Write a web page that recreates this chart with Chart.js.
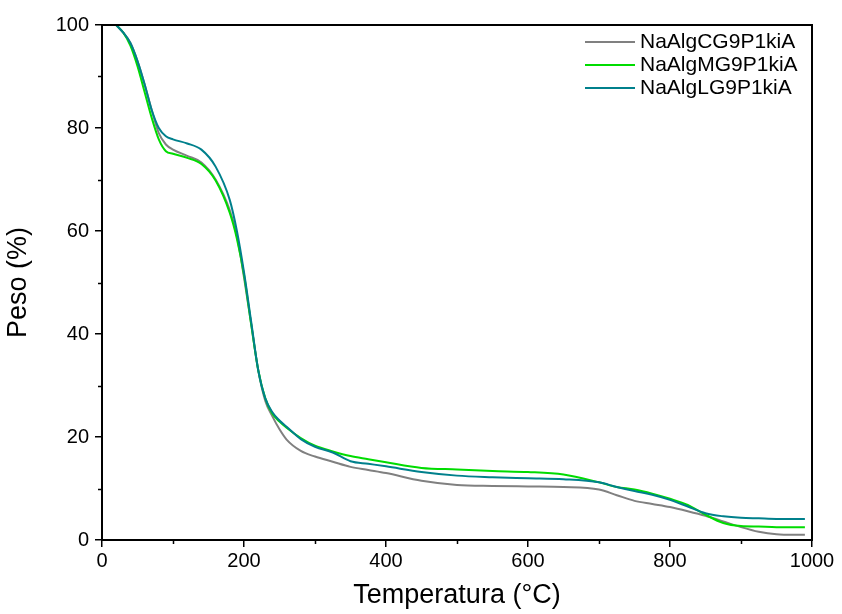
<!DOCTYPE html>
<html>
<head>
<meta charset="utf-8">
<script src="https://cdn.jsdelivr.net/npm/chart.js@4/dist/chart.umd.min.js"></script>
<style>
  html, body { margin: 0; padding: 0; background: #fff; }
  #wrap { width: 842px; height: 614px; }
</style>
</head>
<body>
<div id="wrap"><canvas id="tgaChart" width="842" height="614"></canvas></div>
<script>
// temperatura (°C)
const temperaturas = [20, 30, 40, 50, 60, 70, 80, 90, 100, 120, 140, 160, 180, 190, 200, 210, 220, 230, 240, 250, 260, 280, 300, 325, 350, 375, 400, 450, 500, 550, 600, 650, 700, 725, 750, 775, 800, 825, 850, 875, 900, 925, 950, 975, 990];

// peso (%)
const pesoCG = [100, 98.5, 96.5, 93, 88.5, 83.5, 79, 76.8, 75.8, 74.6, 73.3, 70, 64, 59, 51, 42, 33, 27, 24, 21.5, 19.5, 17.3, 16.2, 15.2, 14.2, 13.6, 13, 11.5, 10.7, 10.5, 10.4, 10.3, 9.8, 8.7, 7.6, 7, 6.4, 5.6, 4.7, 3.6, 2.5, 1.6, 1.1, 1, 1];
const pesoMG = [100, 98.5, 96, 92, 87, 82, 77.8, 75.5, 75, 74.2, 73, 69.8, 63.5, 58.5, 51.5, 42, 33, 27.5, 24.5, 23, 21.8, 19.8, 18.3, 17.2, 16.3, 15.7, 15.1, 14, 13.7, 13.4, 13.2, 12.7, 11.2, 10.3, 9.8, 9, 8, 6.8, 4.9, 3.3, 2.7, 2.6, 2.5, 2.5, 2.5];
const pesoLG = [100, 98.5, 96.5, 93, 88.5, 83.5, 80, 78.4, 77.8, 77, 75.8, 72.5, 66, 60, 52, 42.5, 33, 27.5, 24.8, 23.2, 22, 19.6, 18.1, 17, 15.3, 14.8, 14.3, 13.2, 12.5, 12.2, 12, 11.8, 11.2, 10.3, 9.5, 8.8, 7.8, 6.5, 5.2, 4.6, 4.3, 4.2, 4.1, 4.1, 4.1];

const etichete = ['NaAlgCG9P1kiA', 'NaAlgMG9P1kiA', 'NaAlgLG9P1kiA'];
const culori = ['#808080', '#00dc00', '#00808c'];

const xTicks = [0, 200, 400, 600, 800, 1000];
const yTicks = [0, 20, 40, 60, 80, 100];

function puncte(valori) {
    return temperaturas.map((t, i) => ({ x: t, y: valori[i] }));
}

// ramă, ticks minore si legenda
const extraPlugin = {
    id: 'extra',
    afterDraw(chart) {
        const ctx = chart.ctx;
        const a = chart.chartArea;
        const xs = chart.scales.x;
        const ys = chart.scales.y;
        ctx.save();
        ctx.strokeStyle = '#000';
        ctx.lineWidth = 2;
        ctx.strokeRect(a.left, a.top, a.right - a.left, a.bottom - a.top);

        ctx.lineWidth = 1.5;
        ctx.beginPath();
        for (let v = 100; v < 1000; v += 200) {
            const px = Math.round(xs.getPixelForValue(v)) + 0.5;
            ctx.moveTo(px, a.bottom);
            ctx.lineTo(px, a.bottom + 4);
        }
        for (let v = 10; v < 100; v += 20) {
            const py = Math.round(ys.getPixelForValue(v)) + 0.5;
            ctx.moveTo(a.left, py);
            ctx.lineTo(a.left - 4, py);
        }
        ctx.stroke();

        // legenda
        ctx.font = '21px "Liberation Sans", Arial, sans-serif';
        ctx.textBaseline = 'middle';
        ctx.textAlign = 'left';
        chart.data.datasets.forEach((ds, i) => {
            const y = a.top + 17 + i * 23;
            ctx.strokeStyle = ds.borderColor;
            ctx.lineWidth = 2;
            ctx.beginPath();
            ctx.moveTo(585, y);
            ctx.lineTo(635, y);
            ctx.stroke();
            ctx.fillStyle = '#000';
            ctx.fillText(ds.label, 640, y);
        });
        ctx.restore();
    }
};

const ctx = document.getElementById('tgaChart').getContext('2d');
new Chart(ctx, {
    type: 'line',
    data: {
        datasets: [
            { label: etichete[0], data: puncte(pesoCG), borderColor: culori[0], borderWidth: 2, pointRadius: 0, cubicInterpolationMode: 'monotone', order: 2 },
            { label: etichete[1], data: puncte(pesoMG), borderColor: culori[1], borderWidth: 2, pointRadius: 0, cubicInterpolationMode: 'monotone', order: 1 },
            { label: etichete[2], data: puncte(pesoLG), borderColor: culori[2], borderWidth: 2, pointRadius: 0, cubicInterpolationMode: 'monotone', order: 0 }
        ]
    },
    options: {
        responsive: false,
        animation: false,
        layout: { padding: { left: 0, right: 30, top: 25, bottom: 0 } },
        plugins: {
            legend: { display: false },
            tooltip: { enabled: false }
        },
        scales: {
            x: {
                type: 'linear',
                min: 0,
                max: 1000,
                afterBuildTicks: s => { s.ticks = xTicks.map(v => ({ value: v })); },
                afterFit: s => { s.height = 74; },
                grid: { drawOnChartArea: false, color: '#000', lineWidth: 1.5, tickLength: 7 },
                border: { color: '#000', width: 2 },
                ticks: { color: '#000', padding: 2, maxRotation: 0, callback: v => String(v), font: { family: '"Liberation Sans", Arial, sans-serif', size: 20 } },
                title: { display: true, text: 'Temperatura (°C)', color: '#000', padding: { top: 0, bottom: 2 }, font: { family: '"Liberation Sans", Arial, sans-serif', size: 27 } }
            },
            y: {
                min: 0,
                max: 100,
                afterBuildTicks: s => { s.ticks = yTicks.map(v => ({ value: v })); },
                afterFit: s => { s.width = 102; },
                grid: { drawOnChartArea: false, color: '#000', lineWidth: 1.5, tickLength: 7 },
                border: { color: '#000', width: 2 },
                ticks: { color: '#000', padding: 6, callback: v => String(v), font: { family: '"Liberation Sans", Arial, sans-serif', size: 20 } },
                title: { display: true, text: 'Peso (%)', color: '#000', padding: { top: 2, bottom: 0 }, font: { family: '"Liberation Sans", Arial, sans-serif', size: 27 } }
            }
        }
    },
    plugins: [extraPlugin]
});
</script>
</body>
</html>
